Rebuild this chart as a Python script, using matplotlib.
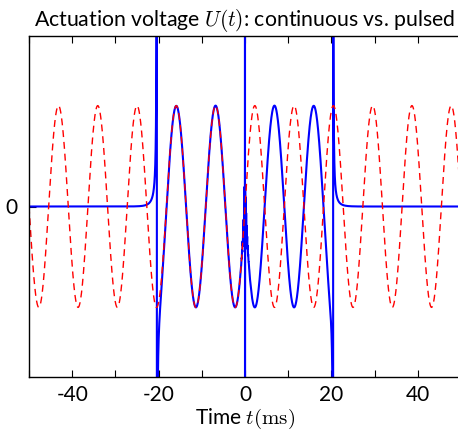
import numpy as np
import matplotlib
matplotlib.use("Agg")
import matplotlib.pyplot as plt

# ---- chart data ----
freq_hz = 110.0            # carrier frequency of the actuation voltage
amplitude = 1.0            # normalised amplitude
pulse_start_ms = -20.4     # start of the pulsed window
pulse_end_ms = 20.4        # end of the pulsed window
phase_flip_ms = 0.0        # phase inversion inside the pulse
edge_strength = [0.2, 0.15]  # transient strength at start / end edge
edge_decay_ms = 1.5
x_limits = [-50, 50]
y_limits = [-1.69, 1.69]
x_tick_labels = [-40, -20, 0, 20, 40]
y_tick_labels = [0]
title_text = "Actuation voltage $U(t)$: continuous vs. pulsed"
xlabel_text = "Time $t(\\mathrm{ms})$"

plt.rcParams['mathtext.fontset'] = 'cm'
plt.rcParams['font.family'] = ['Lato', 'DejaVu Sans']

t = np.linspace(x_limits[0], x_limits[1], 40000)
carrier = amplitude * np.sin(2 * np.pi * freq_hz * t / 1000.0)
continuous = carrier.copy()

pulsed = np.zeros_like(t)
inside = (t > pulse_start_ms) & (t < pulse_end_ms)
sign = np.where(t < phase_flip_ms, 1.0, -1.0)
pulsed[inside] = (carrier * sign)[inside]

# transients at the pulse edges
d1 = t - pulse_start_ms
d1s = np.where(np.abs(d1) < 1e-6, 1e-6, d1)
pulsed += -edge_strength[0] / d1s * np.exp(-np.abs(d1) / edge_decay_ms)
d2 = t - pulse_end_ms
d2s = np.where(np.abs(d2) < 1e-6, 1e-6, d2)
pulsed += edge_strength[1] / d2s * np.exp(-np.abs(d2) / edge_decay_ms)
# switching spike at the phase flip
d0 = t - phase_flip_ms
d0s = np.where(np.abs(d0) < 1e-6, 1e-6, d0)
pulsed += -0.006 / d0s * np.exp(-np.abs(d0) / 0.05)
pulsed += 0.35 * np.sin(2 * np.pi * d0 / 0.12) * np.exp(-np.abs(d0) / 0.25)

fig = plt.figure(figsize=(4.58, 4.30), dpi=100)
ax = fig.add_axes([29 / 458, 53 / 430, 432 / 458, 341 / 430])

ax.plot(t, pulsed, color='#0000ff', lw=1.5)
ax.plot(t, continuous, color='#ff0000', lw=1.0, ls=(0, (5, 3.5)))

ax.set_xlim(x_limits)
ax.set_ylim(y_limits)
ax.set_xticks(np.arange(-50, 51, 10))
ax.set_xticklabels(['' if v not in x_tick_labels else str(v) for v in range(-50, 51, 10)])
ax.set_yticks(y_tick_labels)
ax.set_yticklabels([str(v) for v in y_tick_labels])
ax.tick_params(axis='both', direction='in', top=True, right=False, labelsize=15,
               length=5, width=0.8, pad=6)
ax.tick_params(axis='y', pad=8)
for s in ax.spines.values():
    s.set_linewidth(1.0)
ax.spines['right'].set_visible(False)

ax.set_title(title_text, fontsize=15.3, pad=7)
ax.set_xlabel(xlabel_text, fontsize=15, labelpad=1)

fig.savefig("out.png", dpi=100)
